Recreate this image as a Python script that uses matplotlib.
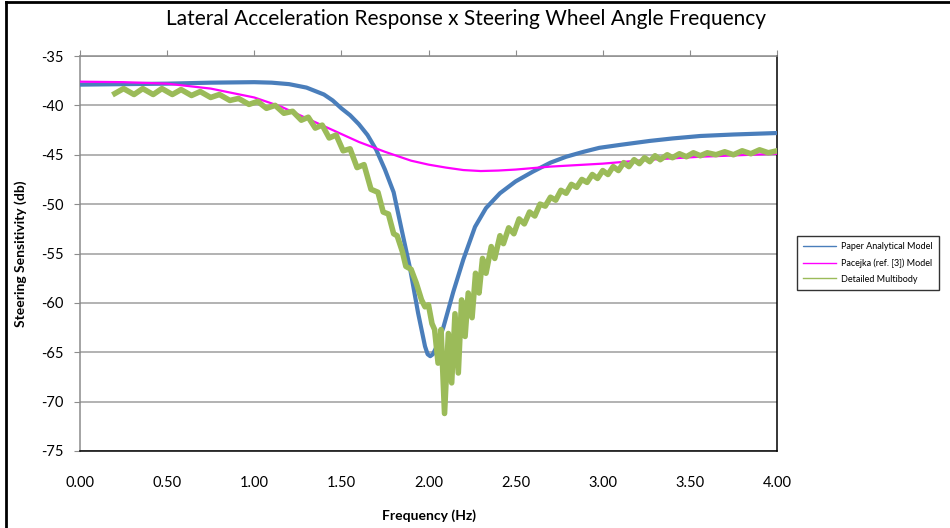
import matplotlib
matplotlib.use("Agg")
import matplotlib.pyplot as plt
from matplotlib.lines import Line2D

plt.rcParams['font.family'] = ['Lato', 'DejaVu Sans']
plt.rcParams['axes.unicode_minus'] = False

# ---------------------------------------------------------
# Data
# ---------------------------------------------------------
analytical_f = [0.00, 0.25, 0.50, 0.75, 1.00, 1.10, 1.20, 1.30, 1.40, 1.45,
                1.50, 1.55, 1.60, 1.65, 1.70, 1.75, 1.80, 1.846, 1.894, 1.94,
                1.98, 1.995, 2.01, 2.025, 2.045, 2.085, 2.142, 2.20, 2.267, 2.33,
                2.41, 2.50, 2.60, 2.70, 2.79, 2.89, 2.98, 3.10, 3.27, 3.40,
                3.56, 3.75, 4.00]
analytical_db = [-37.9, -37.85, -37.8, -37.7, -37.65, -37.7, -37.85, -38.2, -38.9, -39.5,
                 -40.3, -41.0, -41.9, -43.0, -44.5, -46.5, -48.8, -52.6, -56.5, -61.0,
                 -64.4, -65.2, -65.4, -65.2, -64.5, -62.5, -58.9, -55.6, -52.3, -50.4,
                 -48.9, -47.7, -46.7, -45.8, -45.2, -44.7, -44.3, -44.0, -43.6, -43.35,
                 -43.1, -42.95, -42.8]

pacejka_f = [0.0, 0.25, 0.5, 0.75, 1.0, 1.15, 1.3, 1.45, 1.6, 1.75, 1.9, 2.0,
             2.1, 2.2, 2.3, 2.4, 2.5, 2.7, 3.0, 3.27, 3.56, 4.0]
pacejka_db = [-37.6, -37.65, -37.8, -38.3, -39.2, -40.1, -41.3, -42.5, -43.7, -44.7,
              -45.6, -46.0, -46.3, -46.55, -46.65, -46.6, -46.5, -46.2, -45.9, -45.5,
              -45.2, -44.9]

multibody_f = [0.20, 0.25, 0.31, 0.36, 0.42, 0.47, 0.53, 0.58, 0.64, 0.69,
               0.75, 0.80, 0.86, 0.91, 0.97, 1.02, 1.07, 1.12, 1.17, 1.22,
               1.27, 1.31, 1.35, 1.39, 1.43, 1.47, 1.51, 1.55, 1.59, 1.63,
               1.67, 1.71, 1.74, 1.77, 1.80, 1.82, 1.85, 1.87, 1.90, 1.93,
               1.96, 1.98, 2.00, 2.02, 2.035, 2.055, 2.072, 2.092, 2.114, 2.133,
               2.152, 2.171, 2.19, 2.21, 2.228, 2.25, 2.27, 2.29, 2.31, 2.33,
               2.36, 2.38, 2.41, 2.43, 2.46, 2.49, 2.52, 2.55, 2.58, 2.61,
               2.64, 2.67, 2.70, 2.73, 2.76, 2.79, 2.82, 2.85, 2.88, 2.91,
               2.94, 2.97, 3.00, 3.03, 3.06, 3.09, 3.12, 3.15, 3.18, 3.21,
               3.24, 3.27, 3.30, 3.33, 3.37, 3.40, 3.44, 3.48, 3.52, 3.56,
               3.60, 3.65, 3.70, 3.75, 3.80, 3.85, 3.90, 3.95, 4.00]
multibody_db = [-38.8, -38.3, -38.9, -38.3, -38.9, -38.3, -38.9, -38.4, -39.0, -38.6,
                -39.2, -38.9, -39.5, -39.3, -39.9, -39.6, -40.3, -40.0, -40.8, -40.6,
                -41.5, -41.2, -42.3, -42.0, -43.3, -43.0, -44.6, -44.4, -46.3, -46.0,
                -48.5, -48.8, -50.8, -51.0, -53.0, -53.2, -54.8, -56.3, -56.6, -58.0,
                -59.7, -60.4, -60.2, -62.1, -62.7, -66.1, -62.7, -71.2, -63.1, -68.1,
                -61.1, -67.1, -59.7, -63.4, -59.0, -61.5, -57.0, -59.0, -55.5, -57.0,
                -54.3, -55.5, -53.2, -54.0, -52.4, -53.0, -51.5, -52.0, -50.8, -51.2,
                -50.0, -50.2, -49.3, -49.6, -48.6, -48.9, -48.0, -48.3, -47.5, -47.8,
                -47.0, -47.4, -46.6, -47.0, -46.2, -46.6, -45.8, -46.2, -45.5, -45.9,
                -45.3, -45.7, -45.1, -45.5, -45.0, -45.3, -44.9, -45.2, -44.8, -45.1,
                -44.8, -45.0, -44.7, -45.0, -44.6, -44.9, -44.5, -44.8, -44.6]

series_labels = ["Paper Analytical Model", "Pacejka (ref. [3]) Model", "Detailed Multibody"]
x_ticks = [0.0, 0.5, 1.0, 1.5, 2.0, 2.5, 3.0, 3.5, 4.0]
y_ticks = [-35, -40, -45, -50, -55, -60, -65, -70, -75]

# ---------------------------------------------------------
# Figure
# ---------------------------------------------------------
fig = plt.figure(figsize=(9.5, 5.28), dpi=100)
ax = fig.add_axes([80 / 950, 1 - 451 / 528, 697 / 950, 395 / 528])

ax.plot(analytical_f, analytical_db, color='#4a7ebb', lw=3.0,
        label=series_labels[0], zorder=3, solid_capstyle='round')
ax.plot(pacejka_f, pacejka_db, color='#ff00ff', lw=1.6,
        label=series_labels[1], zorder=3)
ax.plot(multibody_f, multibody_db, color='#9bbb59', lw=4.0,
        label=series_labels[2], zorder=4, solid_joinstyle='round')

ax.set_xlim(0, 4)
ax.set_ylim(-75, -35)
ax.set_xticks(x_ticks)
ax.set_xticklabels([f"{t:.2f}" for t in x_ticks])
ax.set_yticks(y_ticks)

ax.yaxis.grid(True, color='#a6a6a6', lw=1.2)
ax.set_axisbelow(True)

for side in ['top', 'left']:
    ax.spines[side].set_color('#8c8c8c')
for side in ['right', 'bottom']:
    ax.spines[side].set_color('black')
for s in ax.spines.values():
    s.set_linewidth(1.1)

ax.tick_params(axis='x', top=True, bottom=False, labeltop=False, labelbottom=True,
               direction='out', length=4, color='#8c8c8c', pad=14, labelsize=10.5)
ax.tick_params(axis='y', direction='out', length=4, color='#8c8c8c', pad=8,
               labelsize=10.5)

ax.set_xlabel("Frequency (Hz)", fontsize=10, fontweight='bold', labelpad=14)
ax.set_ylabel("Steering Sensitivity (db)", fontsize=10, fontweight='bold', labelpad=10)

fig.text(466 / 950, 1 - 19 / 528, "Lateral Acceleration Response x Steering Wheel Angle Frequency",
         ha='center', va='center', fontsize=15)

leg = ax.legend(loc='center left', bbox_to_anchor=(797 / 950, 1 - 263 / 528),
                bbox_transform=fig.transFigure, fontsize=6.5, frameon=True,
                fancybox=False, handlelength=3.6, handletextpad=0.6,
                borderpad=0.7, labelspacing=0.75, borderaxespad=0)
leg.get_frame().set_edgecolor('black')
leg.get_frame().set_linewidth(1.0)
for line in leg.get_lines():
    line.set_linewidth(1.0)

# outer frame (left and top edges visible in the reference)
fig.add_artist(Line2D([6 / 950, 6 / 950], [0, 1 - 2 / 528], color='black', lw=2,
                      transform=fig.transFigure))
fig.add_artist(Line2D([6 / 950, 1], [1 - 2 / 528, 1 - 2 / 528], color='black', lw=2,
                      transform=fig.transFigure))

fig.savefig("out.png", dpi=100)
